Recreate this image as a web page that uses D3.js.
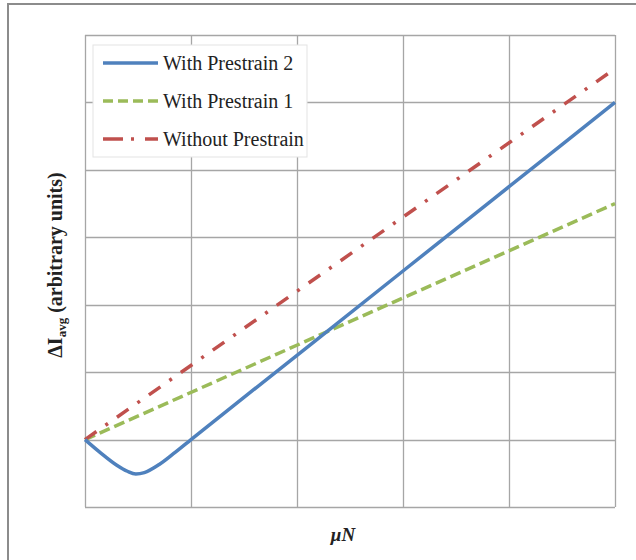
<!DOCTYPE html>
<html>
<head>
<meta charset="utf-8">
<script src="https://cdn.jsdelivr.net/npm/d3@7"></script>
<style>
  body { margin: 0; background: #fff; }
  svg text { font-family: "Liberation Serif", "Times New Roman", serif; }
</style>
</head>
<body>
<div id="chart"></div>
<script>
// --- Data (grid units) ---
const xTicks = [0, 1, 2, 3, 4, 5];
const yTicks = [0, 1, 2, 3, 4, 5, 6, 7];

const prestrain2X = [0, 0.15, 0.3, 0.4, 0.48, 0.56, 0.7, 0.85, 1, 2, 3, 4, 5];
const prestrain2Y = [1, 0.80, 0.62, 0.53, 0.49, 0.51, 0.63, 0.81, 1, 2.25, 3.5, 4.75, 6];

const prestrain1X = [0, 5];
const prestrain1Y = [1, 4.5];

const noPrestrainX = [0, 5];
const noPrestrainY = [1, 6.5];

const seriesNames = ["With Prestrain 2", "With Prestrain 1", "Without Prestrain"];

// --- Layout ---
const W = 636, H = 560;
const margin = { top: 35, left: 85, right: 21, bottom: 53 };
const width = W - margin.left - margin.right;
const height = H - margin.top - margin.bottom;

const svg = d3.select("#chart").append("svg")
    .attr("width", W)
    .attr("height", H);

// outer frame (only top & left visible in the crop)
svg.append("rect")
    .attr("x", 8).attr("y", 4)
    .attr("width", W + 20).attr("height", H + 20)
    .attr("fill", "none")
    .attr("stroke", "#8c8c8c")
    .attr("stroke-width", 2);

const g = svg.append("g")
    .attr("transform", `translate(${margin.left},${margin.top})`);

const x = d3.scaleLinear().domain([0, 5]).range([0, width]);
const y = d3.scaleLinear().domain([0, 7]).range([height, 0]);

// grid
g.append("g")
    .selectAll("line.v")
    .data(xTicks)
    .join("line")
    .attr("x1", d => Math.round(x(d)) + 0.5).attr("x2", d => Math.round(x(d)) + 0.5)
    .attr("y1", 0).attr("y2", height)
    .attr("stroke", "#a6a6a6").attr("stroke-width", 1.3);

g.append("g")
    .selectAll("line.h")
    .data(yTicks)
    .join("line")
    .attr("x1", 0).attr("x2", width)
    .attr("y1", d => Math.round(y(d)) + 0.5).attr("y2", d => Math.round(y(d)) + 0.5)
    .attr("stroke", "#a6a6a6").attr("stroke-width", 1.3);

// series
const line = d3.line()
    .x(d => x(d[0]))
    .y(d => y(d[1]))
    .curve(d3.curveMonotoneX);

const zip = (xs, ys) => xs.map((v, i) => [v, ys[i]]);

g.append("path")
    .datum(zip(prestrain1X, prestrain1Y))
    .attr("d", line)
    .attr("fill", "none")
    .attr("stroke", "#9bbb59")
    .attr("stroke-width", 3.5)
    .attr("stroke-dasharray", "11,5");

g.append("path")
    .datum(zip(noPrestrainX, noPrestrainY))
    .attr("d", line)
    .attr("fill", "none")
    .attr("stroke", "#c0504d")
    .attr("stroke-width", 3.5)
    .attr("stroke-dasharray", "14,11,3,11");

g.append("path")
    .datum(zip(prestrain2X, prestrain2Y))
    .attr("d", line)
    .attr("fill", "none")
    .attr("stroke", "#4f81bd")
    .attr("stroke-width", 3.5)
    .attr("stroke-linejoin", "round");

// legend
const legend = svg.append("g").attr("transform", "translate(93,45)");
legend.append("rect")
    .attr("width", 214).attr("height", 112)
    .attr("fill", "#fff")
    .attr("stroke", "#e3e3e3");

const legendStyles = [
    { color: "#4f81bd", dash: null },
    { color: "#9bbb59", dash: "10,5" },
    { color: "#c0504d", dash: "20,8,3,11,20" }
];

const items = legend.selectAll("g.item")
    .data(seriesNames)
    .join("g")
    .attr("transform", (d, i) => `translate(0,${18 + i * 38})`);

items.append("line")
    .attr("x1", 10).attr("x2", 65)
    .attr("stroke", (d, i) => legendStyles[i].color)
    .attr("stroke-width", 3.5)
    .attr("stroke-dasharray", (d, i) => legendStyles[i].dash);

items.append("text")
    .attr("x", 70)
    .attr("y", 7)
    .attr("font-size", 20)
    .attr("fill", "#222")
    .text(d => d);

// axis titles
const yLab = svg.append("text")
    .attr("transform", "translate(62,265) rotate(-90)")
    .attr("text-anchor", "middle")
    .attr("font-size", 20)
    .attr("font-weight", "bold")
    .attr("fill", "#222");
yLab.append("tspan").text("\u0394I");
yLab.append("tspan").attr("font-size", 13).attr("dy", 4).text("avg");
yLab.append("tspan").attr("dy", -4).text(" (arbitrary units)");

svg.append("text")
    .attr("x", 343)
    .attr("y", 541)
    .attr("text-anchor", "middle")
    .attr("font-size", 19)
    .attr("font-weight", "bold")
    .attr("font-style", "italic")
    .attr("fill", "#222")
    .text("\u03bcN");
</script>
</body>
</html>
